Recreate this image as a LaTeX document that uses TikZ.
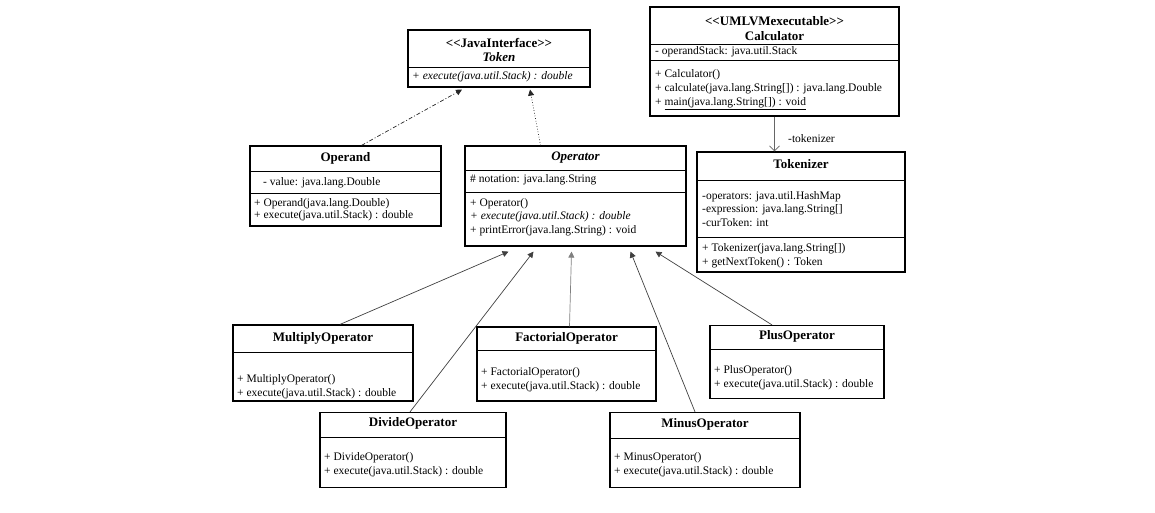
\documentclass[tikz,border=0pt]{standalone}
\usepackage{fontspec}
\setmainfont{Liberation Serif}
\usetikzlibrary{arrows.meta}

\tikzset{
  classbox/.style={draw, line width=1.2pt, inner sep=0pt},
  classname/.style={font=\fontsize{13}{15}\selectfont\bfseries, inner sep=0pt},
  member/.style={font=\fontsize{11.5}{13}\selectfont, anchor=west, inner sep=0pt, text height=8pt, text depth=3pt},
  divider/.style={line width=0.8pt},
  inherit/.style={draw=black!75, line width=0.7pt, -{Triangle[length=6pt,width=6pt]}},
  realize/.style={inherit, draw=black!85},
}

\begin{document}
\begin{tikzpicture}[x=1pt, y=-1pt]
    \useasboundingbox (0,0) rectangle (1155,512);

    % Draw the interface Token
    \node[classbox, minimum width=182pt, minimum height=57pt] (token) at (499,58.5) {};
    \node[classname] at (499,43) {<{}<JavaInterface>{}>};
    \node[classname] at (499,57) {\itshape Token};
    \draw[divider] (408,67) -- (590,67);
    \node[member] at (412,77) {\itshape + execute(java.util.Stack) : double};

    % Draw the class Calculator
    \node[classbox, minimum width=249pt, minimum height=109pt] (calc) at (774.5,61.5) {};
    \node[classname] at (774.5,21) {<{}<UMLVMexecutable>{}>};
    \node[classname] at (774.5,36) {Calculator};
    \draw[divider] (650,44) -- (899,44);
    \node[member] at (655,52) {- operandStack: java.util.Stack};
    \draw[divider] (650,60) -- (899,60);
    \node[member] at (655,75) {+ Calculator()};
    \node[member] at (655,89) {+ calculate(java.lang.String[]) : java.lang.Double};
    \node[member] at (655,103) {+ \underline{main(java.lang.String[]) : void}};

    % Draw the class Tokenizer
    \node[classbox, minimum width=208pt, minimum height=120pt] (tokenizer) at (801,212) {};
    \node[classname] at (801,164) {Tokenizer};
    \draw[divider] (697,180) -- (905,180);
    \node[member] at (702,197) {-operators: java.util.HashMap};
    \node[member] at (702,210) {-expression: java.lang.String[]};
    \node[member] at (702,224) {-curToken: int};
    \draw[divider] (697,237) -- (905,237);
    \node[member] at (702,249) {+ Tokenizer(java.lang.String[])};
    \node[member] at (702,263) {+ getNextToken() : Token};

    % Draw the class Operand
    \node[classbox, minimum width=191pt, minimum height=80pt] (operand) at (345.5,186) {};
    \node[classname] at (345.5,158) {Operand};
    \draw[divider] (250,171) -- (441,171);
    \node[member] at (263,183) {- value: java.lang.Double};
    \draw[divider] (250,193) -- (441,193);
    \node[member] at (254,204) {+ Operand(java.lang.Double)};
    \node[member] at (254,216) {+ execute(java.util.Stack) : double};

    % Draw the abstract class Operator
    \node[classbox, minimum width=221pt, minimum height=100pt] (operator) at (575.5,196) {};
    \node[classname] at (575.5,158) {\itshape Operator};
    \draw[divider] (465,170) -- (686,170);
    \node[member] at (470,180) {\# notation: java.lang.String};
    \draw[divider] (465,192) -- (686,192);
    \node[member] at (470,204) {+ Operator()};
    \node[member] at (470,217) {\itshape + execute(java.util.Stack) : double};
    \node[member] at (470,231) {+ printError(java.lang.String) : void};

    % Draw the operator subclasses, first row
    \node[classbox, minimum width=180pt, minimum height=76pt] (multiply) at (323,363) {};
    \node[classname] at (323,338) {MultiplyOperator};
    \draw[divider] (233,352) -- (413,352);
    \node[member] at (237,380) {+ MultiplyOperator()};
    \node[member] at (237,394) {+ execute(java.util.Stack) : double};

    \node[classbox, minimum width=179pt, minimum height=74pt] (factorial) at (566.5,364) {};
    \node[classname] at (566.5,338) {FactorialOperator};
    \draw[divider] (477,350) -- (656,350);
    \node[member] at (481,373) {+ FactorialOperator()};
    \node[member] at (481,387) {+ execute(java.util.Stack) : double};

    \node[classbox, minimum width=174pt, minimum height=73pt] (plus) at (797,362) {};
    \node[classname] at (797,336) {PlusOperator};
    \draw[divider] (710,349) -- (884,349);
    \node[member] at (714,371) {+ PlusOperator()};
    \node[member] at (714,385) {+ execute(java.util.Stack) : double};

    % Draw the operator subclasses, second row
    \node[classbox, minimum width=186pt, minimum height=75pt] (divide) at (413,450) {};
    \node[classname] at (413,423) {DivideOperator};
    \draw[divider] (320,437) -- (506,437);
    \node[member] at (324,458) {+ DivideOperator()};
    \node[member] at (324,472) {+ execute(java.util.Stack) : double};

    \node[classbox, minimum width=190pt, minimum height=75pt] (minus) at (705,450) {};
    \node[classname] at (705,424) {MinusOperator};
    \draw[divider] (610,438) -- (800,438);
    \node[member] at (614,458) {+ MinusOperator()};
    \node[member] at (614,472) {+ execute(java.util.Stack) : double};

    % Draw the realizations of Token
    \draw[realize, dash pattern=on 4pt off 2pt on 1pt off 2pt]
      ([xshift=16pt]operand.north) -- ([xshift=-37pt, yshift=-2pt]token.south);
    \draw[realize, dotted] ([xshift=-35pt]operator.north) -- ([xshift=31pt, yshift=-2pt]token.south);

    % Draw the generalizations to Operator
    \draw[inherit] ([xshift=17pt]multiply.north) -- ([xshift=-67pt, yshift=-5pt]operator.south);
    \draw[inherit] ([xshift=-3pt]divide.north) -- ([xshift=-42pt, yshift=-5pt]operator.south);
    \draw[inherit, draw=black!50] ([xshift=3pt]factorial.north) -- ([xshift=-4pt, yshift=-5pt]operator.south);
    \draw[inherit] ([xshift=-10pt]minus.north) -- ([xshift=55pt, yshift=-5pt]operator.south);
    \draw[inherit] ([xshift=-25pt]plus.north) -- ([xshift=80pt, yshift=-5pt]operator.south);

    % Draw the association Calculator to Tokenizer
    \draw[draw=black!60, line width=0.7pt, -{Straight Barb[length=5pt]}]
      (calc.south) -- (calc.south |- tokenizer.north)
      node[pos=0.64, right=10pt, font=\fontsize{11.5}{13}\selectfont] {-tokenizer};
\end{tikzpicture}
\end{document}
